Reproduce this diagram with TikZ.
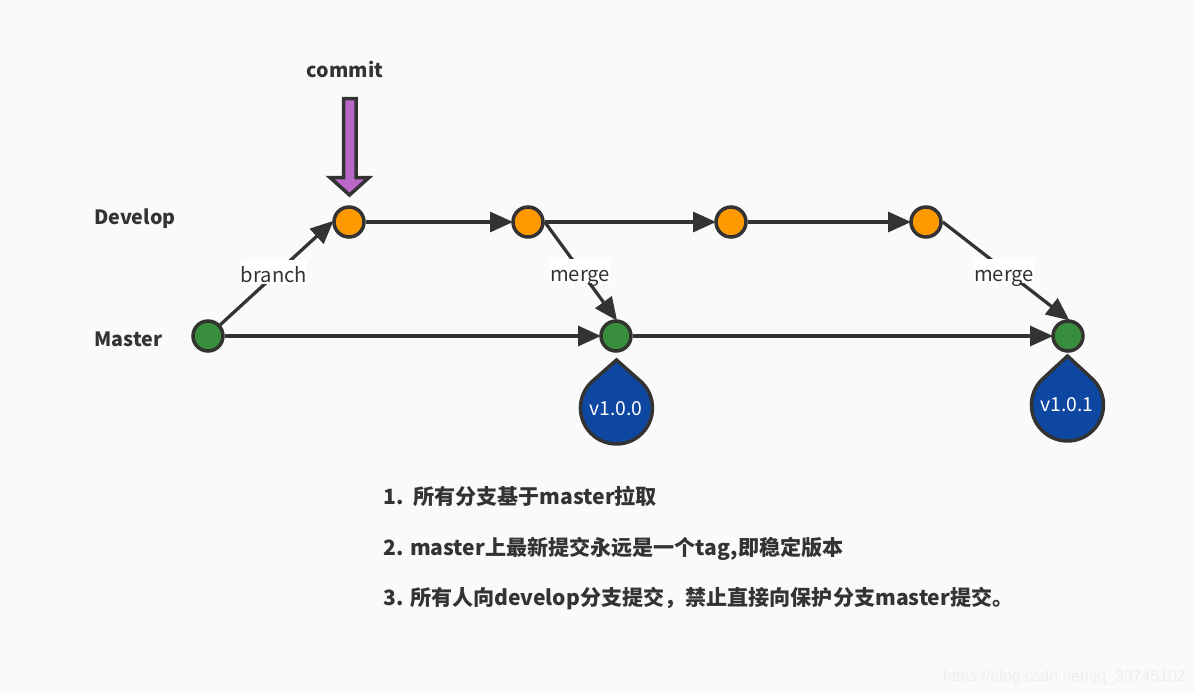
\documentclass[tikz,border=0pt]{standalone}
\usepackage{fontspec}
\setmainfont{Noto Sans CJK SC}
\newfontfamily\markfont{Liberation Sans}
\usetikzlibrary{arrows.meta}
\definecolor{pagebg}{HTML}{FAFAFA}
\definecolor{inkgray}{HTML}{333333}
\definecolor{devorange}{HTML}{FF9900}
\definecolor{mastergreen}{HTML}{388E3C}
\definecolor{tagblue}{HTML}{0D47A1}
\definecolor{commitpurple}{HTML}{BA68C8}
\definecolor{markgray}{HTML}{EEEEEE}
\begin{document}
\begin{tikzpicture}[x=0.02cm,y=-0.02cm,
            dot/.style = {circle,draw=inkgray,line width=0.07cm,
                        minimum size = 0.6cm,inner sep=0pt},
            devdot/.style = {dot,fill=devorange},
            masterdot/.style = {dot,fill=mastergreen},
            flow/.style = {draw=inkgray,line width=0.065cm,
                        -{Triangle[length=0.46cm,width=0.4cm]},shorten >=-1pt},
            edgetext/.style = {anchor=base,fill=white,inner sep=0pt,text=inkgray,
                        text height=0.44cm,text depth=0.04cm,font=\fontsize{11.5}{14}\selectfont},
            heading/.style = {anchor=base west,inner sep=0pt,text=inkgray,font=\fontsize{11.2}{14}\selectfont\bfseries},
            notetext/.style = {heading,font=\fontsize{12}{14}\selectfont\bfseries},
            tagtext/.style = {anchor=base,text=white,inner sep=0pt,font=\fontsize{11}{14}\selectfont},
            tagdrop/.style = {draw=inkgray,fill=tagblue,line width=0.07cm}]
            \fill[pagebg] (0,0) rectangle (1195,693);
            \useasboundingbox (0,0) rectangle (1195,693);
            % Commit arrow
            \draw[draw=inkgray,fill=commitpurple,line width=0.07cm,line join=miter]
                (343.5,98.5) -- (356,98.5) -- (356,177.5) -- (369,177.5) -- (349.5,195)
                -- (330,177.5) -- (343.5,177.5) -- cycle;
            % Tags
            \draw[tagdrop] (616.5,360) -- (591,382.5) arc (225:-45:36) -- cycle;
            \draw[tagdrop] (1067.5,356) -- (1042,379.5) arc (225:-45:36) -- cycle;
            % Develop commits
            \node[devdot] (D1) at (349,222) {};
            \node[devdot] (D2) at (528,222) {};
            \node[devdot] (D3) at (731,222) {};
            \node[devdot] (D4) at (926,222) {};
            % Master commits
            \node[masterdot] (M1) at (208,336) {};
            \node[masterdot] (M2) at (616,336) {};
            \node[masterdot] (M3) at (1068,336) {};
            % Connections
            \draw[flow] (M1) -- (D1.west);
            \draw[flow] (D1) -- (D2);
            \draw[flow] (D2) -- (D3);
            \draw[flow] (D3) -- (D4);
            \draw[flow] (M1) -- (M2);
            \draw[flow] (M2) -- (M3);
            \draw[flow] (D2.east) -- (M2.north);
            \draw[flow] (D4.east) -- (M3.north);
            % Connection labels
            \node[edgetext] (branchlabel) at (274,282) {branch};
            \node[edgetext] (mergeA) at (580,281) {merge};
            \node[edgetext] (mergeB) at (1004,281) {merge};
            % Tag labels
            \node[tagtext] (tagA) at (616,415) {v1.0.0};
            \node[tagtext] (tagB) at (1067,411) {v1.0.1};
            % Headings
            \node[heading,anchor=base] (commit) at (345,77) {commit};
            \node[heading] (develop) at (94,224) {Develop};
            \node[heading] (master) at (94,346) {Master};
            % Notes
            \node[notetext] (noteA) at (383,504) {1.\ \ 所有分支基于master拉取};
            \node[notetext] (noteB) at (383,555) {2. master上最新提交永远是一个tag,即稳定版本};
            \node[notetext] (noteC) at (383,605) {3. 所有人向develop分支提交，禁止直接向保护分支master提交。};
            % Watermark
            \node[anchor=base east,inner sep=0pt,text=markgray,font=\markfont\fontsize{9}{12}\selectfont] (mark) at (1186,681) {https://blog.csdn.net/qq\_33745102};
        \end{tikzpicture}
\end{document}
